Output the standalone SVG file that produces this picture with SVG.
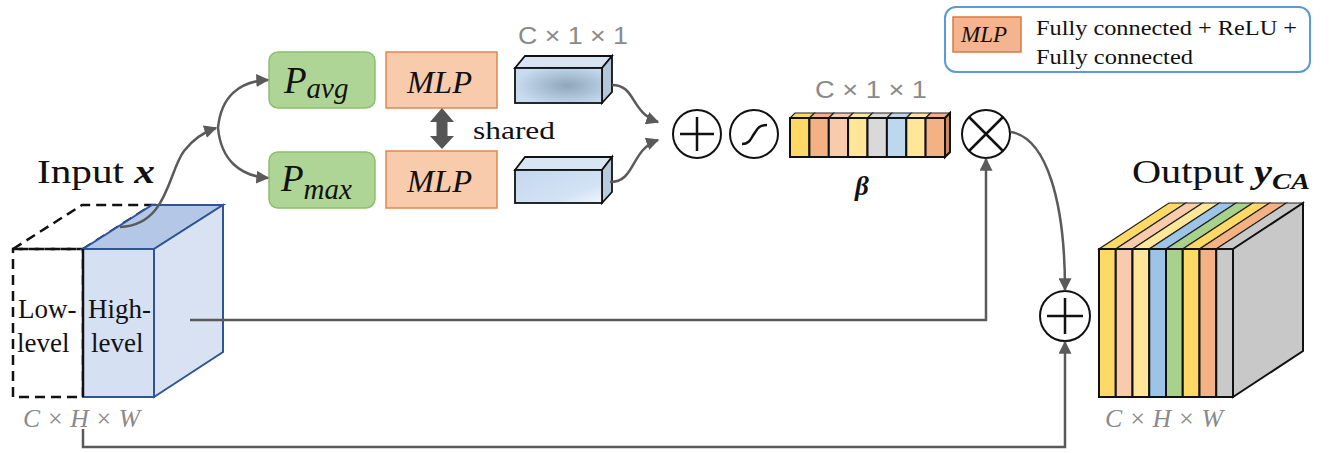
<svg xmlns="http://www.w3.org/2000/svg" width="1331" height="453" viewBox="0 0 1331 453">
<style>
.serif{font-family:"Liberation Serif","Times New Roman",serif;fill:#111}
.it{font-style:italic}
.dim{font-family:"Liberation Serif",serif;font-style:italic;fill:#8a8a8a}
.dim1{font-family:"Liberation Sans",Arial,sans-serif;fill:#8a8a8a}
.conn{fill:none;stroke:#5a5a5a;stroke-width:2.5}
.op{fill:#fff;stroke:#111;stroke-width:2}
.opl{stroke:#111;stroke-width:2.5;fill:none}
.pool{fill:#aed596;stroke:#8cc06c;stroke-width:1.5}
.mlp{fill:#f8cbad;stroke:#e2874f;stroke-width:1.5}
.blk{stroke:#111;stroke-width:2}
.thin{stroke:#222;stroke-width:1.2}
</style>
<defs>
<marker id="ah" viewBox="0 0 10 10" refX="9" refY="5" markerWidth="13" markerHeight="13" markerUnits="userSpaceOnUse" orient="auto">
<path d="M0,0 L10,5 L0,10 z" fill="#5a5a5a"/>
</marker>
<radialGradient id="g1" cx="0.6" cy="0.5" r="0.6">
<stop offset="0" stop-color="#8fa6bb"/>
<stop offset="1" stop-color="#c8dcf0"/>
</radialGradient>
<linearGradient id="g2" x1="0" y1="0" x2="1" y2="1">
<stop offset="0" stop-color="#c3d7ee"/>
<stop offset="0.7" stop-color="#d3e3f5"/>
<stop offset="1" stop-color="#f0f6fc"/>
</linearGradient>
</defs>

<g id="input">
<polygon points="13,249 82,205 152,205 83,249" fill="none" stroke="#111" stroke-width="2.5" stroke-dasharray="10,6"/>
<rect x="13" y="249" width="70" height="148" fill="none" stroke="#111" stroke-width="2.5" stroke-dasharray="10,6"/>
<polygon points="83,249 152,205 223,205 154,249" fill="#b4c7e7" stroke="#2f5597" stroke-width="2"/>
<polygon points="154,249 223,205 223,352 154,397" fill="#d9e2f3" stroke="#2f5597" stroke-width="2"/>
<rect x="83" y="249" width="71" height="148" fill="#d6e0f3" stroke="#2f5597" stroke-width="2"/>
<line x1="83" y1="249" x2="83" y2="397" stroke="#111" stroke-width="2.5"/>
<text class="serif" x="37" y="183" font-size="34" textLength="118" lengthAdjust="spacingAndGlyphs">Input <tspan font-weight="bold" font-style="italic">x</tspan></text>
<text class="serif" x="18" y="318" font-size="27">Low-</text>
<text class="serif" x="17" y="352" font-size="27">level</text>
<text class="serif" x="88" y="318" font-size="27">High-</text>
<text class="serif" x="91" y="352" font-size="27">level</text>
<text class="dim" x="23" y="427" font-size="26" textLength="117" lengthAdjust="spacingAndGlyphs">C × H × W</text>
</g>

<g id="p_avg">
<rect class="pool" x="269" y="52" width="106" height="56" rx="9"/>
<text class="serif it" x="284" y="93" font-size="37">P<tspan font-size="29" dy="5">avg</tspan></text>
</g>
<g id="p_max">
<rect class="pool" x="269" y="152" width="106" height="56" rx="9"/>
<text class="serif it" x="281" y="191" font-size="37">P<tspan font-size="29" dy="8">max</tspan></text>
</g>
<g id="mlp_top">
<rect class="mlp" x="386" y="52" width="111" height="56"/>
<text class="serif it" x="407" y="93" font-size="31" textLength="65" lengthAdjust="spacingAndGlyphs">MLP</text>
</g>
<g id="mlp_bottom">
<rect class="mlp" x="386" y="151" width="111" height="57"/>
<text class="serif it" x="407" y="192" font-size="31" textLength="65" lengthAdjust="spacingAndGlyphs">MLP</text>
</g>
<g id="shared">
<polygon points="442,108 454,122 447.5,122 447.5,136 454,136 442,149 430,136 436.5,136 436.5,122 430,122" fill="#555"/>
<text class="serif" x="473" y="139" font-size="25" textLength="82" lengthAdjust="spacingAndGlyphs">shared</text>
</g>

<g id="feat_avg">
<polygon points="515,68 525,56 612,56 602,68" fill="#d5e3f2" stroke="#111" stroke-width="1.8"/>
<polygon points="602,68 612,56 612,92 602,103" fill="#b3c6da" stroke="#111" stroke-width="1.8"/>
<rect x="515" y="68" width="87" height="35" fill="url(#g1)" stroke="#111" stroke-width="1.8"/>
<text class="dim1" x="518" y="44" font-size="23" textLength="110" lengthAdjust="spacingAndGlyphs">C × 1 × 1</text>
</g>
<g id="feat_max">
<polygon points="515,170 525,157 612,157 602,170" fill="#d8e6f4" stroke="#111" stroke-width="1.8"/>
<polygon points="602,170 612,157 612,192 602,203" fill="#b8cade" stroke="#111" stroke-width="1.8"/>
<rect x="515" y="170" width="87" height="33" fill="url(#g2)" stroke="#111" stroke-width="1.8"/>
</g>

<g id="add1">
<circle class="op" cx="697" cy="134" r="24"/>
<path class="opl" d="M680,134 H714 M697,117 V151"/>
</g>
<g id="sigmoid">
<circle class="op" cx="754" cy="134" r="24"/>
<path class="opl" stroke-width="3" d="M742,144 C750,144 751,138 754,134 C757,130 758,125 767,125"/>
</g>

<g id="beta">
<polygon class="thin" points="790,118 795,113 814.4,113 809.4,118" fill="#ffd966"/>
<polygon class="thin" points="809.4,118 814.4,113 833.8,113 828.8,118" fill="#f4b183"/>
<polygon class="thin" points="828.8,118 833.8,113 853.1,113 848.1,118" fill="#f8cbad"/>
<polygon class="thin" points="848.1,118 853.1,113 872.5,113 867.5,118" fill="#ffe699"/>
<polygon class="thin" points="867.5,118 872.5,113 891.9,113 886.9,118" fill="#d9d9d9"/>
<polygon class="thin" points="886.9,118 891.9,113 911.3,113 906.3,118" fill="#bdd7ee"/>
<polygon class="thin" points="906.3,118 911.3,113 930.6,113 925.6,118" fill="#ffe699"/>
<polygon class="thin" points="925.6,118 930.6,113 950,113 945,118" fill="#f4b183"/>
<polygon class="blk" points="945,118 950,113 950,152 945,157" fill="#c98a5e"/>
<rect class="blk" x="790" y="118" width="19.4" height="39" fill="#ffd966"/>
<rect class="blk" x="809.4" y="118" width="19.4" height="39" fill="#f4b183"/>
<rect class="blk" x="828.8" y="118" width="19.3" height="39" fill="#f8cbad"/>
<rect class="blk" x="848.1" y="118" width="19.4" height="39" fill="#ffe699"/>
<rect class="blk" x="867.5" y="118" width="19.4" height="39" fill="#d9d9d9"/>
<rect class="blk" x="886.9" y="118" width="19.4" height="39" fill="#bdd7ee"/>
<rect class="blk" x="906.3" y="118" width="19.3" height="39" fill="#ffe699"/>
<rect class="blk" x="925.6" y="118" width="19.4" height="39" fill="#f4b183"/>
<text class="dim1" x="815" y="98" font-size="23" textLength="112" lengthAdjust="spacingAndGlyphs">C × 1 × 1</text>
<text class="serif" x="862" y="195" font-size="27" font-weight="bold" font-style="italic" text-anchor="middle">β</text>
</g>

<g id="mul">
<circle class="op" cx="986" cy="134" r="24"/>
<path class="opl" d="M969,117 L1003,151 M1003,117 L969,151"/>
</g>
<g id="add2">
<circle class="op" cx="1065" cy="316" r="25"/>
<path class="opl" d="M1047,316 H1083 M1065,298 V334"/>
</g>

<g id="output">
<polygon class="thin" points="1099,249 1115.75,249 1185.75,203 1169,203" fill="#ffd966"/>
<polygon class="thin" points="1115.75,249 1132.5,249 1202.5,203 1185.75,203" fill="#f8cbad"/>
<polygon class="thin" points="1132.5,249 1149.25,249 1219.25,203 1202.5,203" fill="#ffe699"/>
<polygon class="thin" points="1149.25,249 1166,249 1236,203 1219.25,203" fill="#9dc3e6"/>
<polygon class="thin" points="1166,249 1182.75,249 1252.75,203 1236,203" fill="#a9d18e"/>
<polygon class="thin" points="1182.75,249 1199.5,249 1269.5,203 1252.75,203" fill="#ffd966"/>
<polygon class="thin" points="1199.5,249 1216.25,249 1286.25,203 1269.5,203" fill="#f4b183"/>
<polygon class="thin" points="1216.25,249 1233,249 1303,203 1286.25,203" fill="#c9c9c9"/>
<polygon class="blk" points="1233,249 1303,203 1303,351 1233,397" fill="#c8c8c8"/>
<rect class="blk" x="1099" y="249" width="16.75" height="148" fill="#ffd966"/>
<rect class="blk" x="1115.75" y="249" width="16.75" height="148" fill="#f8cbad"/>
<rect class="blk" x="1132.5" y="249" width="16.75" height="148" fill="#ffe699"/>
<rect class="blk" x="1149.25" y="249" width="16.75" height="148" fill="#9dc3e6"/>
<rect class="blk" x="1166" y="249" width="16.75" height="148" fill="#a9d18e"/>
<rect class="blk" x="1182.75" y="249" width="16.75" height="148" fill="#ffd966"/>
<rect class="blk" x="1199.5" y="249" width="16.75" height="148" fill="#f4b183"/>
<rect class="blk" x="1216.25" y="249" width="16.75" height="148" fill="#c9c9c9"/>
<text class="serif" x="1132" y="183" font-size="34" textLength="178" lengthAdjust="spacingAndGlyphs">Output <tspan font-weight="bold" font-style="italic">y</tspan><tspan font-weight="bold" font-style="italic" font-size="24" dy="6">CA</tspan></text>
<text class="dim" x="1105" y="427" font-size="26" textLength="118" lengthAdjust="spacingAndGlyphs">C × H × W</text>
</g>

<g id="legend">
<rect x="945" y="7" width="365" height="65" rx="11" fill="#fff" stroke="#5b9bd5" stroke-width="2"/>
<rect x="953" y="17" width="68" height="35" fill="#f4b48f" stroke="#d97a3f" stroke-width="1.5"/>
<text class="serif it" x="961" y="42" font-size="23" textLength="46" lengthAdjust="spacingAndGlyphs">MLP</text>
<text class="serif" x="1036" y="35" font-size="22" textLength="261" lengthAdjust="spacingAndGlyphs">Fully connected + ReLU +</text>
<text class="serif" x="1036" y="64" font-size="22" textLength="157" lengthAdjust="spacingAndGlyphs">Fully connected</text>
</g>

<g id="connectors">
<path class="conn" marker-end="url(#ah)" d="M120,227 C168,225 168,172 184,151 C194,138 204,132 216,128"/>
<path class="conn" marker-end="url(#ah)" d="M218,128 C221,96 240,81 268,80"/>
<path class="conn" marker-end="url(#ah)" d="M218,128 C221,160 240,176 268,178"/>
<path class="conn" marker-end="url(#ah)" d="M612,85 C636,85 630,112 658,122"/>
<path class="conn" marker-end="url(#ah)" d="M610,182 C636,182 630,150 658,140"/>
<path class="conn" marker-end="url(#ah)" d="M190,320 H986 V159"/>
<path class="conn" marker-end="url(#ah)" d="M1011,132 C1046,138 1065,200 1065,290"/>
<path class="conn" marker-end="url(#ah)" d="M83,429 V447 H1065 V342"/>
</g>
</svg>
